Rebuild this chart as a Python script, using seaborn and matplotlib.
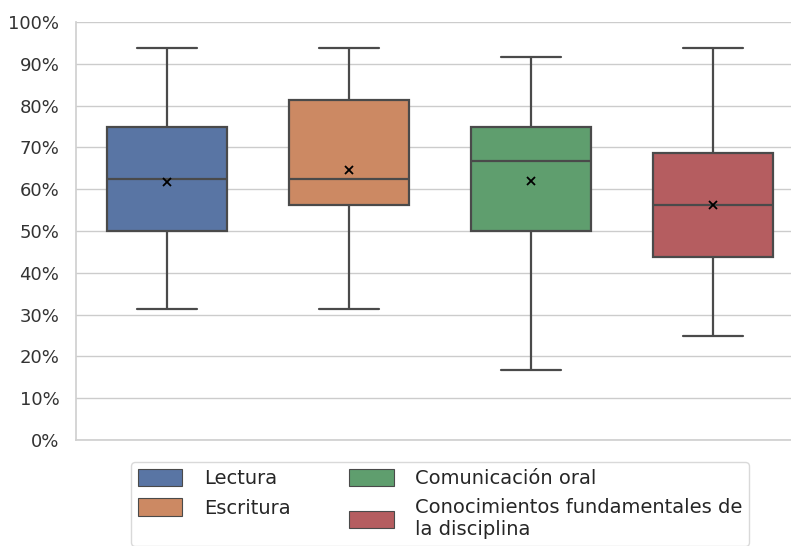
import numpy as np
import pandas as pd
import seaborn as sns
import matplotlib.pyplot as plt
from matplotlib.patches import Patch
from matplotlib.ticker import PercentFormatter

# ================= DATA =================
categories = ["Lectura", "Escritura", "Comunicación oral",
              "Conocimientos fundamentales de la disciplina"]
legend_labels = ["Lectura", "Escritura", "Comunicación oral",
                 "Conocimientos fundamentales de\nla disciplina"]

# scores per group (fraction of correct answers)
lectura = [0.3125, 0.50, 0.50, 0.5625, 0.625, 0.625, 0.75, 0.75, 0.9375]
escritura = [0.3125, 0.50, 0.5625, 0.625, 0.625, 0.625, 0.8125, 0.8125, 0.9375]
comunicacion = [2/12, 6/12, 6/12, 7/12, 8/12, 8/12, 9/12, 10/12, 11/12]
conocimientos = [0.25, 0.375, 0.4375, 0.50, 0.5625, 0.625, 0.6875, 0.6875, 0.9375]

df = pd.DataFrame({
    "categoria": np.repeat(categories, [len(lectura), len(escritura),
                                        len(comunicacion), len(conocimientos)]),
    "valor": lectura + escritura + comunicacion + conocimientos,
})

# ================= PLOT =================
sns.set_theme(style="whitegrid")
plt.rcParams["font.family"] = ["DejaVu Sans"]
colors = sns.color_palette("deep", 4)
box_colors = [sns.desaturate(c, 0.75) for c in colors]

fig = plt.figure(figsize=(7.91, 5.46), dpi=100)
ax = fig.add_axes([0.0961, 0.1941, 0.9204, 0.7656])

sns.boxplot(data=df, x="categoria", y="valor", hue="categoria",
            palette=colors, width=0.66, linewidth=1.6, linecolor="#4a4a4a",
            showmeans=True, legend=False, ax=ax,
            meanprops=dict(marker="x", markeredgecolor="black",
                           markersize=6, markeredgewidth=1.3))

ax.set_ylim(0, 1)
ax.set_xlim(-0.5, 3.5)
ax.yaxis.set_major_locator(plt.MultipleLocator(0.1))
ax.yaxis.set_major_formatter(PercentFormatter(1, decimals=0))
ax.set_xlabel("")
ax.set_ylabel("")
ax.set_xticks([])
ax.tick_params(axis="y", labelsize=13, colors="#333333", pad=6)
ax.grid(axis="x", visible=False)
sns.despine(ax=ax, top=True, right=True)
for side in ["left", "bottom"]:
    ax.spines[side].set_color("#d0d0d0")

handles = [Patch(facecolor=c, edgecolor="#4a4a4a", linewidth=0.8) for c in box_colors]
ax.legend(handles, legend_labels, ncol=2, loc="upper center",
          bbox_to_anchor=(0.5, -0.03), fontsize=14, frameon=True,
          edgecolor="#d0d0d0", handlelength=2.3, handleheight=1.0,
          handletextpad=1.1, columnspacing=3.0, labelspacing=0.5,
          borderpad=0.35)

fig.savefig("out.png", dpi=100)
